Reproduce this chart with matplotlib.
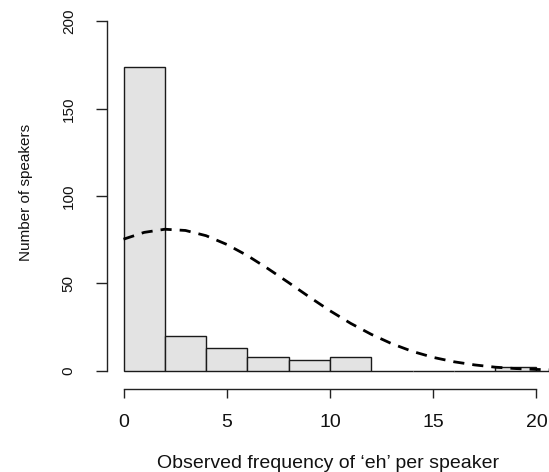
import numpy as np
import matplotlib
matplotlib.use('Agg')
import matplotlib.pyplot as plt

plt.rcParams['font.family'] = ['Liberation Sans', 'DejaVu Sans']

# histogram of 'eh' tokens per speaker, bins of width 2
bin_edges = [0, 2, 4, 6, 8, 10, 12, 14, 16, 18, 20, 22]
counts = [174, 20, 13, 8, 6, 8, 0, 0, 0, 2, 0]

# fitted curve, read at whole numbers of tokens
curve_x = [0, 1, 2, 3, 4, 5, 6, 7, 8, 9, 10, 11, 12, 13, 14, 15, 16, 17, 18, 19, 20, 21]
curve_y = [75.3, 79.2, 81.0, 80.3, 77.3, 72.3, 65.9, 58.4, 50.4, 42.2, 34.3, 27.1,
           20.8, 15.4, 11.0, 7.6, 5.1, 3.3, 2.0, 1.2, 0.7, 0.4]

x_ticks = [0, 5, 10, 15, 20]
y_ticks = [0, 50, 100, 150, 200]

W, H = 549, 472
fig = plt.figure(figsize=(W / 100, H / 100), dpi=100)
# plot region in pixels: left 107, right 553, top 7.5, bottom 389
ax = fig.add_axes([107 / W, (H - 389) / H, 446 / W, 381.5 / H])

lefts = bin_edges[:-1]
widths = np.diff(bin_edges)
ax.bar(lefts, counts, width=widths, align='edge', color='#e3e3e3',
       edgecolor='#1a1a1a', linewidth=1.0, zorder=2)

ax.plot(curve_x, curve_y, color='black', linewidth=2.0,
        linestyle=(0, (4, 2.9)), zorder=3)

ax.set_xlim(-0.8, 20.8)
ax.set_ylim(-10.5, 208)

for side in ['top', 'right']:
    ax.spines[side].set_visible(False)
ax.spines['left'].set_bounds(0, 200)
ax.spines['bottom'].set_bounds(0, 20)
for side in ['left', 'bottom']:
    ax.spines[side].set_linewidth(1.0)
    ax.spines[side].set_color('#222222')

ax.set_xticks(x_ticks)
ax.set_yticks(y_ticks)
ax.tick_params(axis='x', length=6.7, width=1.0, color='#222222', pad=11,
               labelsize=14, labelcolor='#111111')
ax.tick_params(axis='y', length=8, width=1.0, color='#222222', pad=14.5,
               labelsize=11, labelcolor='#111111')
plt.setp(ax.get_yticklabels(), rotation=90, va='center')

ax.set_xlabel("Observed frequency of \u2018eh\u2019 per speaker", fontsize=14,
              color='#111111')
ax.xaxis.set_label_coords(0.496, -0.173)
ax.set_ylabel('Number of speakers', fontsize=11, color='#111111')
ax.yaxis.set_label_coords(-0.165, 0.516)

fig.savefig('out.png', dpi=100)
